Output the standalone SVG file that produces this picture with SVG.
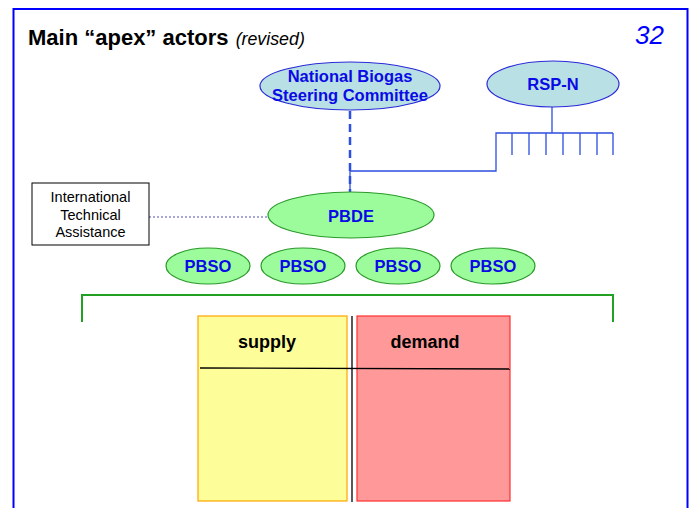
<svg xmlns="http://www.w3.org/2000/svg" width="693" height="508" viewBox="0 0 693 508">
<style>
.node{font-family:"Liberation Sans",Arial,sans-serif;font-weight:bold;font-size:16.5px;fill:#0a0ae6;text-anchor:middle}
.blue{fill:#b9e0e4;stroke:#2a2ad8;stroke-width:1.2}
.green{fill:#9cfc9c;stroke:#2a9a2a;stroke-width:1.2}
.conn{fill:none;stroke:#2b4fe0;stroke-width:1.3}
</style>
<rect x="0" y="0" width="693" height="508" fill="#ffffff"/>
<rect x="13.5" y="9" width="674" height="520" fill="none" stroke="#0000ff" stroke-width="2"/>
<text x="28" y="45" font-family="Liberation Sans,Arial,sans-serif" font-size="22" font-weight="bold" fill="#000">Main “apex” actors <tspan dx="1" font-weight="normal" font-style="italic" font-size="17.8">(revised)</tspan></text>
<text x="664" y="44" font-family="Liberation Sans,Arial,sans-serif" font-size="26" font-style="italic" fill="#0000ff" text-anchor="end">32</text>

<g id="connectors">
<line x1="350" y1="111" x2="350" y2="192" stroke="#2b4fe0" stroke-width="2.5" stroke-dasharray="8,5"/>
<polyline class="conn" points="350,192 350,171 496,171 496,133 613,133"/>
<line class="conn" x1="552" y1="107" x2="552" y2="133"/>
<path class="conn" d="M512,133V155M529,133V155M546,133V155M563,133V155M580,133V155M597,133V155M613,133V155"/>
<line x1="149" y1="217" x2="268" y2="217" stroke="#8a8ad0" stroke-width="1.5" stroke-dasharray="2,2"/>
</g>

<g id="nbsc">
<ellipse class="blue" cx="350" cy="86" rx="90" ry="24"/>
<text class="node" x="350" y="82">National Biogas</text>
<text class="node" x="350" y="101">Steering Committee</text>
</g>
<g id="rspn">
<ellipse class="blue" cx="553" cy="84" rx="66" ry="23"/>
<text class="node" x="553" y="90">RSP-N</text>
</g>
<g id="pbde">
<ellipse class="green" cx="351" cy="215" rx="83" ry="23"/>
<text class="node" x="351" y="222">PBDE</text>
</g>
<g id="ita">
<rect x="32" y="183" width="117" height="62" fill="#fff" stroke="#000" stroke-width="1"/>
<text font-family="Liberation Sans,Arial,sans-serif" font-size="14.5" fill="#000" text-anchor="middle"><tspan x="90.5" y="202">International</tspan><tspan x="90.5" y="220">Technical</tspan><tspan x="90.5" y="237">Assistance</tspan></text>
</g>
<g id="pbso1"><ellipse class="green" cx="208" cy="266" rx="42" ry="18"/><text class="node" x="208" y="272">PBSO</text></g>
<g id="pbso2"><ellipse class="green" cx="303" cy="266" rx="42" ry="18"/><text class="node" x="303" y="272">PBSO</text></g>
<g id="pbso3"><ellipse class="green" cx="398" cy="266" rx="42" ry="18"/><text class="node" x="398" y="272">PBSO</text></g>
<g id="pbso4"><ellipse class="green" cx="493" cy="266" rx="42" ry="18"/><text class="node" x="493" y="272">PBSO</text></g>

<g id="bracket">
<polyline points="82,322 82,295 613,295 613,322" fill="none" stroke="#22a022" stroke-width="2"/>
</g>
<g id="supply">
<rect x="198" y="316" width="149" height="185" fill="#fdfd99" stroke="#ffa500" stroke-width="1.2"/>
<text x="267" y="348" font-family="Liberation Sans,Arial,sans-serif" font-size="18" font-weight="bold" fill="#000" text-anchor="middle">supply</text>
</g>
<g id="demand">
<rect x="357" y="316" width="153" height="185" fill="#ff9999" stroke="#ff3030" stroke-width="1.2"/>
<text x="425" y="348" font-family="Liberation Sans,Arial,sans-serif" font-size="18" font-weight="bold" fill="#000" text-anchor="middle">demand</text>
</g>
<line x1="352" y1="316" x2="352" y2="502" stroke="#000" stroke-width="1.3"/>
<line x1="200" y1="368" x2="510" y2="369" stroke="#000" stroke-width="1.3"/>
</svg>
